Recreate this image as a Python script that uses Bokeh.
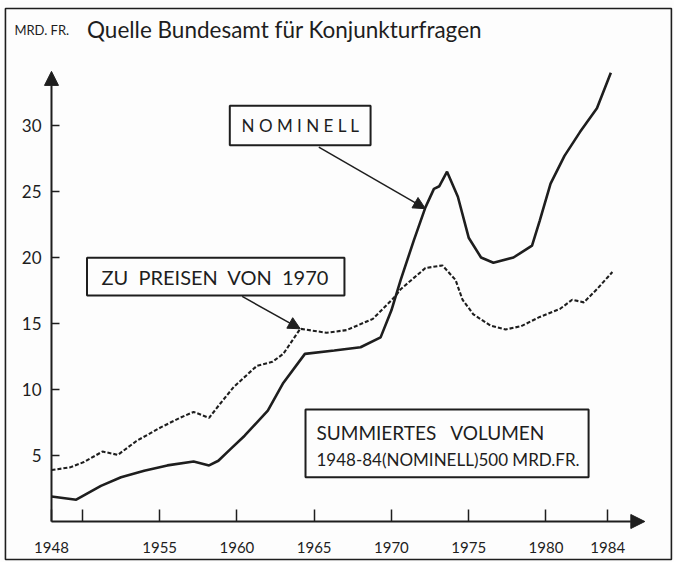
from bokeh.plotting import figure
from bokeh.models import (Range1d, FixedTicker, Arrow, NormalHead, BoxAnnotation, Label)
from bokeh.embed import file_html
from bokeh.resources import INLINE

# ---- data ----
nom_years = [1948, 1949.6, 1951.2, 1952.5, 1954, 1955.5, 1957.2, 1958.2, 1958.8, 1959.6,
             1960.5, 1962, 1963, 1964.4, 1966.3, 1968, 1969.3, 1970, 1970.6, 1971.45,
             1972.2, 1972.75, 1973.1, 1973.6, 1974.3, 1975, 1975.8, 1976.6, 1977.9, 1979.1,
             1979.6, 1980.3, 1981.2, 1982.2, 1983.3, 1984.2]
nom_vals = [1.9, 1.65, 2.7, 3.35, 3.85, 4.25, 4.55, 4.25, 4.6, 5.5,
            6.5, 8.4, 10.5, 12.7, 12.95, 13.2, 13.95, 16.0, 18.3, 21.3,
            23.8, 25.2, 25.4, 26.5, 24.6, 21.5, 20.0, 19.6, 20.0, 20.9,
            22.8, 25.6, 27.7, 29.5, 31.3, 34.0]

real_years = [1948, 1949.2, 1950.1, 1951.3, 1952.3, 1953.5, 1955.1, 1956.4, 1957.2, 1958.2,
              1958.9, 1959.8, 1961.3, 1962.3, 1963, 1964.1, 1965.8, 1967.1, 1968.8, 1970.2,
              1970.6, 1972.2, 1973.3, 1974.15, 1974.6, 1975.3, 1976.4, 1977.4, 1978.4, 1979.6,
              1980.9, 1981.7, 1982.45, 1983.3, 1984.3]
real_vals = [3.9, 4.1, 4.5, 5.3, 5.05, 6.1, 7.15, 7.9, 8.3, 7.85,
             8.9, 10.2, 11.8, 12.1, 12.7, 14.6, 14.3, 14.5, 15.35, 17.0,
             17.6, 19.2, 19.4, 18.3, 16.8, 15.7, 14.85, 14.55, 14.8, 15.5,
             16.1, 16.8, 16.6, 17.6, 18.9]

x_ticks = [1948, 1950, 1955, 1960, 1965, 1970, 1975, 1980, 1984]
x_tick_labels = {1948: "1948", 1950: "", 1955: "1955", 1960: "1960", 1965: "1965",
                 1970: "1970", 1975: "1975", 1980: "1980", 1984: "1984"}
y_ticks = [5, 10, 15, 20, 25, 30]

INK = "#1e1e1e"
PAPER = "#fdfdfd"
FONT = "Lato"
NB = "\u00a0"

p = figure(width=674, height=562, output_backend="svg", toolbar_location=None,
           x_range=Range1d(1944.70, 1988.32), y_range=Range1d(-3.106, 39.47),
           min_border=0)
p.background_fill_color = PAPER
p.border_fill_color = PAPER
p.outline_line_color = None
p.grid.visible = False

# outer border of the picture
p.add_layout(BoxAnnotation(left=1945.02, right=1988.12, bottom=-2.88, top=38.86,
                           fill_color=None, line_color=INK, line_alpha=1, line_width=1.6))

# axes inside the frame
p.xaxis.fixed_location = 0
p.yaxis.fixed_location = 1948
p.xaxis.bounds = (1948, 1986)
p.yaxis.bounds = (0, 33)
p.xaxis.ticker = FixedTicker(ticks=x_ticks)
p.xaxis.major_label_overrides = x_tick_labels
p.yaxis.ticker = FixedTicker(ticks=y_ticks)
for ax in (p.xaxis, p.yaxis):
    ax.axis_line_color = None
    ax.minor_tick_line_color = None
    ax.major_tick_line_color = INK
    ax.major_tick_line_width = 1.5
    ax.major_tick_out = 0
    ax.major_label_text_font = FONT
    ax.major_label_text_color = INK
p.xaxis.major_tick_in = 12
p.yaxis.major_tick_in = 8
p.xaxis.major_label_standoff = 20
p.yaxis.major_label_standoff = 10
p.xaxis.major_label_text_font_size = "15px"
p.yaxis.major_label_text_font_size = "17px"

# axis lines with arrow heads
p.add_layout(Arrow(x_start=1948, y_start=0, x_end=1986.4, y_end=0, line_color=INK, line_width=2,
                   end=NormalHead(size=14, fill_color=INK, line_color=INK, line_width=1)))
p.add_layout(Arrow(x_start=1948, y_start=0, x_end=1948, y_end=34.1, line_color=INK, line_width=2,
                   end=NormalHead(size=14, fill_color=INK, line_color=INK, line_width=1)))

# series
p.line(nom_years, nom_vals, line_color=INK, line_width=2.6)
p.line(real_years, real_vals, line_color=INK, line_width=2.1, line_dash="4 2")

# heading
p.add_layout(Label(x=1945.6, y=37.2, text="MRD. FR.", text_font=FONT, text_font_size="13px",
                   text_color=INK, text_baseline="middle"))
p.add_layout(Label(x=1950.3, y=37.3, text="Quelle Bundesamt für Konjunkturfragen", text_font=FONT,
                   text_font_size="22.5px", text_color=INK, text_baseline="middle"))

# annotation boxes
def box(l, r, b, t):
    p.add_layout(BoxAnnotation(left=l, right=r, bottom=b, top=t, fill_color=PAPER,
                               fill_alpha=1, line_color=INK, line_alpha=1, line_width=2))

box(1959.54, 1968.65, 28.5, 31.5)
p.add_layout(Label(x=1964.1, y=30.0, text=NB.join("NOMINELL"), text_font=FONT, text_font_size="17px",
                   text_color=INK, text_align="center", text_baseline="middle"))
p.add_layout(Arrow(x_start=1965.3, y_start=28.36, x_end=1972.2, y_end=23.7, line_color=INK,
                   line_width=1.5, end=NormalHead(size=12, fill_color=INK, line_color=INK)))

box(1950.3, 1966.96, 17.12, 19.98)
p.add_layout(Label(x=1958.6, y=18.5, text="ZU" + NB + " PREISEN" + NB + " VON" + NB + " 1970", text_font=FONT,
                   text_font_size="20px", text_color=INK, text_align="center", text_baseline="middle"))
p.add_layout(Arrow(x_start=1960.34, y_start=17.05, x_end=1964.1, y_end=14.6, line_color=INK,
                   line_width=1.5, end=NormalHead(size=12, fill_color=INK, line_color=INK)))

box(1964.44, 1982.76, 3.36, 8.48)
p.add_layout(Label(x=1965.15, y=6.77, text="SUMMIERTES" + NB * 3 + "VOLUMEN", text_font=FONT,
                   text_font_size="19px", text_color=INK, text_baseline="middle"))
p.add_layout(Label(x=1965.15, y=4.7, text="1948-84(NOMINELL)500 MRD.FR.", text_font=FONT,
                   text_font_size="17px", text_color=INK, text_baseline="middle"))

open("out.html", "w").write(file_html(p, INLINE))
